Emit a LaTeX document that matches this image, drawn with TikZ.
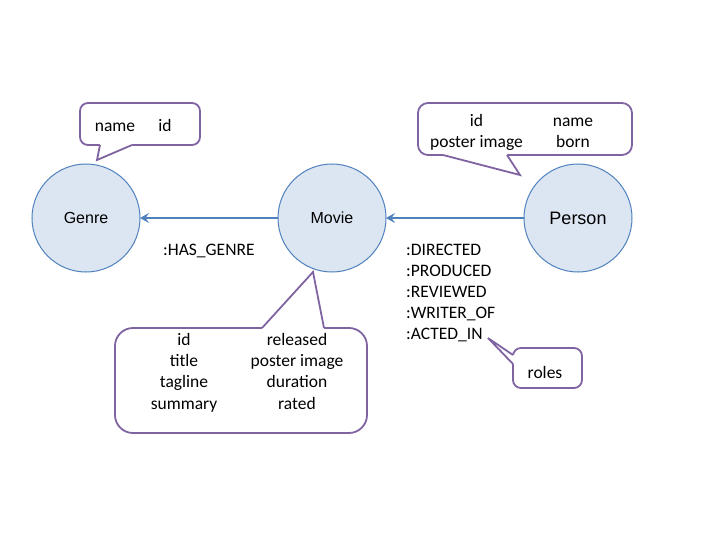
\documentclass[tikz,border=0pt]{standalone}
\usepackage{fontspec}
\setmainfont{Carlito}
\newfontfamily\labelfont{Liberation Sans}
\usetikzlibrary{arrows.meta}
\definecolor{entfill}{RGB}{220,230,242}
\definecolor{entline}{RGB}{79,129,189}
\definecolor{callline}{RGB}{128,100,162}
\begin{document}
\begin{tikzpicture}[x=1pt,y=-1pt,
  entity/.style={circle,draw=entline,line width=1pt,fill=entfill,minimum size=108pt,inner sep=0pt,outer sep=0pt},
  relarrow/.style={draw=entline,line width=2.4pt,-{Stealth[length=9pt,width=10pt,inset=3.5pt]}},
  callbox/.style={draw=callline,line width=1.8pt,fill=white},
  callptr/.style={draw=callline,line width=1.8pt,line join=miter,miter limit=6},
  cover/.style={fill=white},
  txt/.style={font=\fontsize{17.5}{21}\selectfont,inner sep=0pt,anchor=base},
  rellabel/.style={font=\fontsize{17.5}{21}\selectfont,inner sep=0pt,anchor=base west},
]
\useasboundingbox (0,0) rectangle (720,540);

% entities
\node[entity,font=\labelfont\fontsize{16}{19}\selectfont] (genre) at (86,218) {Genre};
\node[entity,font=\labelfont\fontsize{16}{19}\selectfont] (movie) at (332,218) {Movie};
\node[entity,font=\labelfont\fontsize{18}{21}\selectfont] (person) at (578,218) {Person};

% relationships
\draw[relarrow] (movie) -- (genre);
\draw[relarrow] (person) -- (movie);

% Genre callout
\draw[callbox,rounded corners=8pt] (80,103) rectangle (200,145);
\fill[cover] (100,143.5) -- (100,146) -- (97,160) -- (132,146) -- (132,143.5) -- cycle;
\draw[callptr] (100,145) -- (97,160) -- (132,145);

% Person callout
\draw[callbox,rounded corners=10pt] (418,103) rectangle (632,155);
\fill[cover] (443,153.5) -- (443,156) -- (520,175) -- (507,156) -- (507,153.5) -- cycle;
\draw[callptr] (443,155) -- (520,175) -- (507,155);

% Movie callout
\draw[callbox,rounded corners=18pt] (115,328) rectangle (367,433);
\fill[cover] (262,329.5) -- (262,327) -- (313,272) -- (324,327) -- (324,329.5) -- cycle;
\draw[callptr] (262,328) -- (313,272) -- (324,328);

% roles callout
\draw[callbox,rounded corners=8pt] (513,348) rectangle (582,388);
\fill[cover] (514.5,355) -- (512,355) -- (488,338) -- (512,364) -- (514.5,364) -- cycle;
\draw[callptr] (513,355) -- (488,338) -- (513,364);

% callout texts
\node[txt] (gname) at (115,132) {name};
\node[txt] (gid) at (165,132) {id};

\node[txt] (pid) at (476.5,127) {id};
\node[txt] (pname) at (573,127) {name};
\node[txt] (pposter) at (476.5,148) {poster image};
\node[txt] (pborn) at (573,148) {born};

\node[txt] (mid) at (184,345) {id};
\node[txt] (mtitle) at (184,366.3) {title};
\node[txt] (mtagline) at (184,387.7) {tagline};
\node[txt] (msummary) at (184,409) {summary};
\node[txt] (mreleased) at (297,345) {released};
\node[txt] (mposter) at (297,366.3) {poster image};
\node[txt] (mduration) at (297,387.7) {duration};
\node[txt] (mrated) at (297,409) {rated};

\node[txt] (roles) at (545,378) {roles};

% relationship labels
\node[rellabel] (hasgenre) at (163,255) {:HAS\_GENRE};
\node[rellabel] (r1) at (406,255) {:DIRECTED};
\node[rellabel] (r2) at (406,276) {:PRODUCED};
\node[rellabel] (r3) at (406,297) {:REVIEWED};
\node[rellabel] (r4) at (406,318) {:WRITER\_OF};
\node[rellabel] (r5) at (406,339) {:ACTED\_IN};
\end{tikzpicture}
\end{document}
